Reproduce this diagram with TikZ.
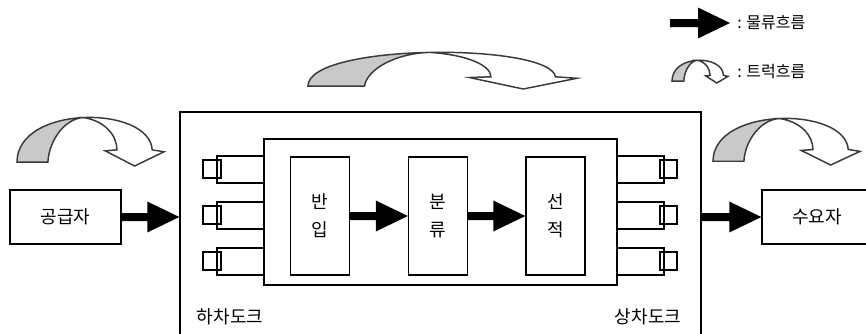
\documentclass[tikz,border=0pt]{standalone}
\usepackage{fontspec}
\newfontfamily\kr{Noto Sans CJK KR}
\usetikzlibrary{calc}
\definecolor{ribbongray}{HTML}{C9C9C9}
\definecolor{ribbonline}{HTML}{3A3A3A}
\tikzset{
  box/.style={draw, line width=1pt, inner sep=0pt},
  lbl/.style={font=\kr\fontsize{13.5}{21}\selectfont},
  legtext/.style={font=\kr\fontsize{12}{13}\selectfont, anchor=west, inner sep=0pt},
  tube/.style={draw, line width=0.8pt},
  ribbon/.style={draw=ribbonline, line width=1.1pt},
  truck/.pic={
    \filldraw[ribbon, fill=ribbongray] (0,0.08) .. controls (0,0.665) and (0.225,0.9575) .. (0.4525,0.989)
      .. controls (0.33,0.97) and (0.22,0.55) .. (0.21,0.08) -- cycle;
    \filldraw[ribbon, fill=white] (0.4525,0.989) .. controls (0.68,1.02) and (0.91,0.79) .. (0.92,0.33)
      -- (1,0.29) -- (0.8,0) -- (0.6,0.31) -- (0.68,0.33)
      .. controls (0.68,0.62) and (0.6,0.92) .. (0.4525,0.989) -- cycle;
  }
}
\newcommand\flowarrow[2]{\fill let \p1=(#1), \p2=(#2) in
  (\x1,\y1+3pt) -- (\x2-24pt,\y1+3pt) -- (\x2-24pt,\y1+11.6pt) -- (\x2,\y1)
  -- (\x2-24pt,\y1-11.6pt) -- (\x2-24pt,\y1-3pt) -- (\x1,\y1-3pt) -- cycle;}
\begin{document}
\begin{tikzpicture}[x=0.75pt, y=-0.75pt]
\useasboundingbox (0,0) rectangle (866,333);
\clip (0,0) rectangle (866,333);
\fill[white] (0,0) rectangle (866,333);

% outer dock building and inner processing area
\node[box, minimum width=390.75pt, minimum height=178.5pt] (outer) at (440.5,231) {};
\node[box, minimum width=264.75pt, minimum height=109.5pt] (inner) at (440.5,212) {};

% dock tubes
\foreach \ty in {156,202,248} {
  \draw[tube] (217,\ty) rectangle (264,\ty+27);
  \draw[tube] (203,\ty+4) rectangle (221,\ty+22);
  \draw[tube] (617,\ty) rectangle (664,\ty+27);
  \draw[tube] (660,\ty+4) rectangle (677,\ty+22);
}

% process boxes
\node[box, lbl, minimum width=44.25pt, minimum height=88.5pt, align=center] (inbound) at (320,216) {반\\입};
\node[box, lbl, minimum width=44.25pt, minimum height=88.5pt, align=center] (sorting) at (438,216) {분\\류};
\node[box, lbl, minimum width=44.25pt, minimum height=88.5pt, align=center] (loading) at (555.5,216) {선\\적};

% supplier / consumer
\node[box, lbl, minimum width=83.25pt, minimum height=40.5pt] (supplier) at (65.5,217) {공급자};
\node[box, lbl, minimum width=82.5pt, minimum height=40.5pt] (consumer) at (817,217) {수요자};

% dock labels
\node[lbl] (unload) at (230,317) {하차도크};
\node[lbl] (upload) at (648,317) {상차도크};

% material flow arrows
\flowarrow{supplier.east}{supplier.east -| outer.west}
\flowarrow{inbound.east}{sorting.west}
\flowarrow{sorting.east}{loading.west}
\flowarrow{consumer.west -| outer.east}{consumer.west}

% truck flow ribbons
\pic[xscale=147, yscale=-49] at (17,166) {truck};
\pic[xscale=269, yscale=-37] at (308,89) {truck};
\pic[xscale=147, yscale=-47] at (713,165) {truck};

% legend
\coordinate (legS) at (670,23);
\coordinate (legE) at (730,23);
\flowarrow{legS}{legE}
\node[legtext] (legflow) at (737,23) {: 물류흐름};
\pic[xscale=56, yscale=-23] at (672,83) {truck};
\node[legtext] (legtruck) at (737,72) {: 트럭흐름};
\end{tikzpicture}
\end{document}
